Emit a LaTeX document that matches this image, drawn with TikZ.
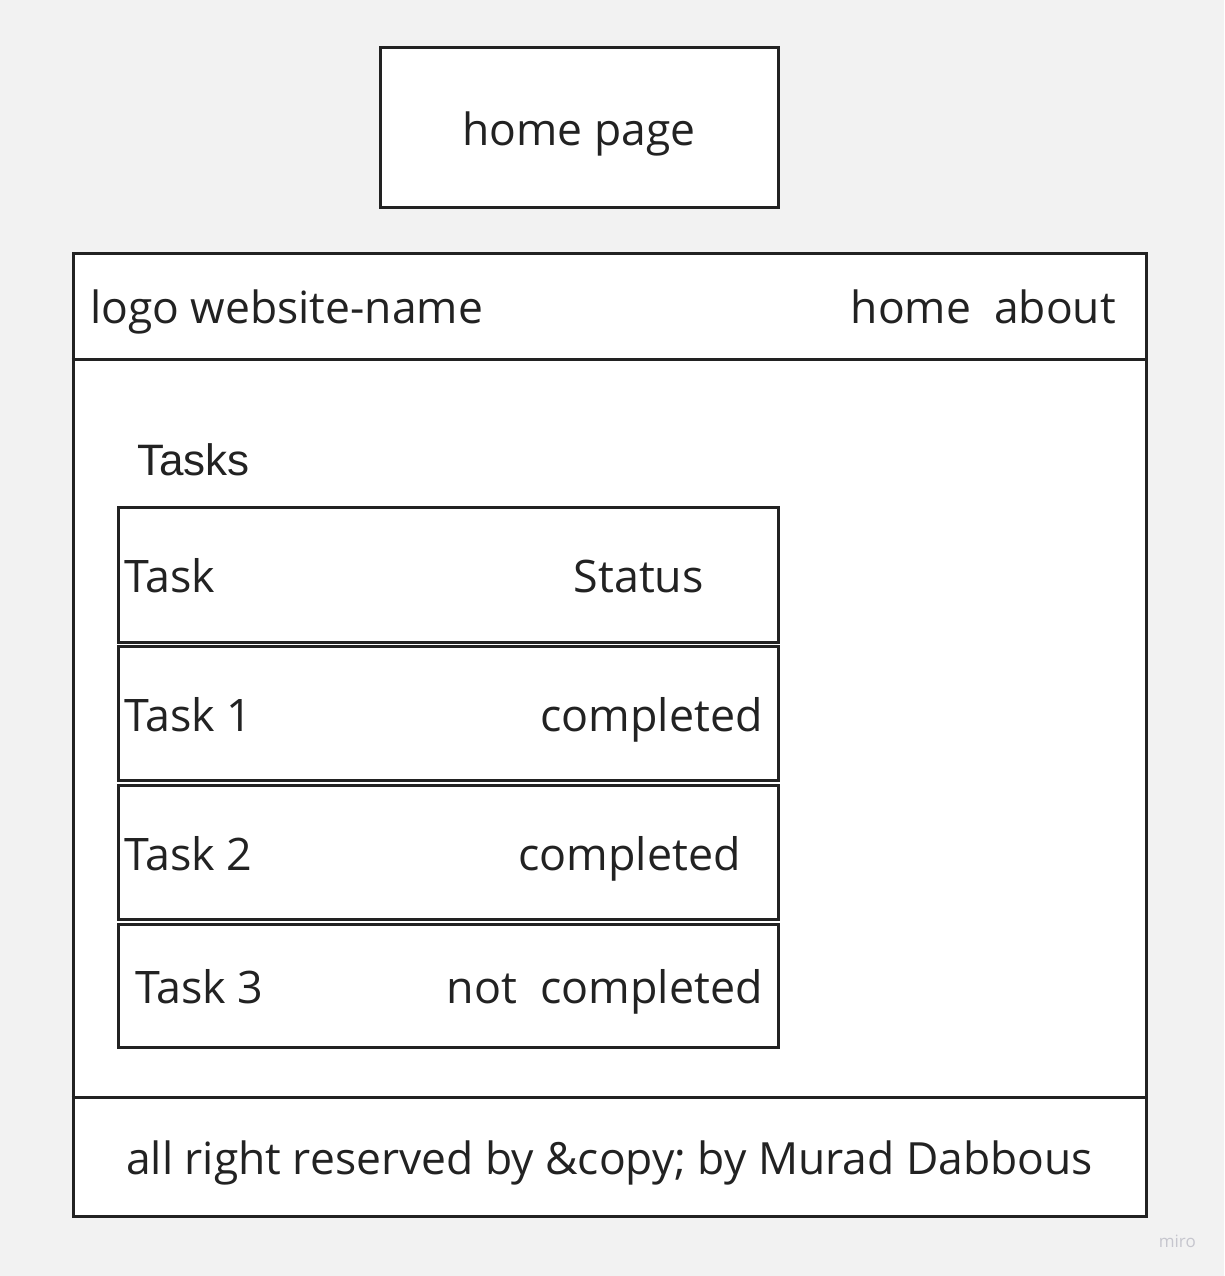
\documentclass[tikz,border=0pt]{standalone}
\usepackage{fontspec}
\setmainfont{Open Sans}
\newfontfamily\arialfont{Liberation Sans}
\usetikzlibrary{positioning}
\usepackage{xcolor}
\definecolor{pagebg}{HTML}{F2F2F2}
\definecolor{ink}{HTML}{222222}
\definecolor{mirogray}{HTML}{C6C6CE}

\begin{document}
\begin{tikzpicture}[
    x=1pt, y=-1pt,
    box/.style={draw=ink, line width=3pt, fill=white, rectangle, inner sep=0pt},
    txt/.style={inner sep=0pt, text=ink, font=\fontsize{44.4}{50}\selectfont},
    cell/.style={inner sep=0pt, text=ink, font=\fontsize{44.8}{50}\selectfont}
  ]
  \fill[pagebg] (0,0) rectangle (1224,1276);
  \useasboundingbox (0,0) rectangle (1224,1276);

  % Boxes
  \node[box, minimum width=398pt, minimum height=159pt] (title) at (579,127.5) {};
  \node[box, minimum width=1073pt, minimum height=963pt] (page) at (609.5,734.5) {};
  \node[box, minimum width=660pt, minimum height=135pt] (head) at (448,574.5) {};
  \node[box, minimum width=660pt, minimum height=134pt] (row1) at (448,713) {};
  \node[box, minimum width=660pt, minimum height=134pt] (row2) at (448,852) {};
  \node[box, minimum width=660pt, minimum height=123pt] (row3) at (448,985.5) {};

  % Header and footer lines
  \coordinate (navline) at (0,359);
  \coordinate (footline) at (0,1097);
  \draw[ink, line width=3pt] (page.west |- navline) -- (page.east |- navline);
  \draw[ink, line width=3pt] (page.west |- footline) -- (page.east |- footline);

  % Texts
  \node[txt, anchor=base] (titletext) at (579,145.5) {home page};
  \node[txt, anchor=base west] (logo) at (90,323) {logo website-name};
  \node[txt, anchor=base east] (nav) at (1116,323) {home\ \ about};
  \node[inner sep=0pt, text=ink, anchor=base west, font=\arialfont\fontsize{44}{50}\selectfont] (tasks) at (137,475) {Tasks};
  \node[cell, anchor=base west] (taskhead) at (124,592) {Task};
  \node[cell, anchor=base east] (statushead) at (704,592) {Status};
  \node[cell, anchor=base west] (task1) at (124,731) {Task 1};
  \node[cell, anchor=base east] (status1) at (763,731) {completed};
  \node[cell, anchor=base west] (task2) at (124,870) {Task 2};
  \node[cell, anchor=base east] (status2) at (741,870) {completed};
  \node[cell, anchor=base west] (task3) at (135,1003) {Task 3};
  \node[cell, anchor=base east] (status3) at (763,1003) {not\ \ completed};
  \node[txt, anchor=base] (footer) at (609.5,1174) {all right reserved by \&copy; by Murad Dabbous};
  \node[inner sep=0pt, text=mirogray, anchor=base east, font=\fontsize{17}{20}\selectfont] (miro) at (1196,1247) {miro};
\end{tikzpicture}
\end{document}
